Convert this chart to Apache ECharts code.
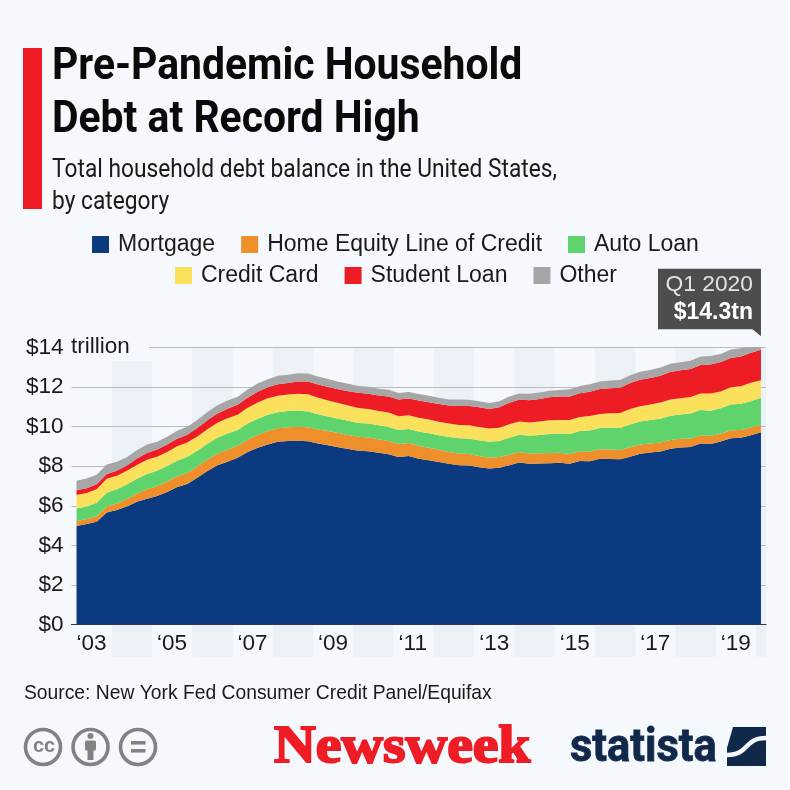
<!DOCTYPE html>
<html>
<head>
<meta charset="utf-8">
<script src="https://cdn.jsdelivr.net/npm/echarts@6/dist/echarts.min.js"></script>
<style>
html, body { margin: 0; padding: 0; background: #f5f8fc; }
#chart { width: 790px; height: 790px; }
</style>
</head>
<body>
<div id="chart"></div>
<script>
// quarterly balances, $ trillion, Q1 2003 - Q1 2020
var mortgage = [4.98,5.08,5.20,5.66, 5.79,5.97,6.20,6.36, 6.50,6.70,6.95,7.10, 7.42,7.76,8.05,8.23, 8.42,8.71,8.93,9.10, 9.23,9.27,9.29,9.26, 9.14,9.06,8.96,8.87, 8.78,8.76,8.68,8.60, 8.46,8.52,8.38,8.30, 8.21,8.12,8.05,8.03, 7.95,7.88,7.92,8.05, 8.18,8.12,8.13,8.15, 8.17,8.12,8.26,8.25, 8.37,8.36,8.35,8.48, 8.63,8.69,8.74,8.88, 8.94,8.97,9.14,9.12, 9.24,9.41,9.44,9.56, 9.71];
var heloc = [.24,.26,.27,.30, .33,.37,.42,.47, .50,.53,.54,.55, .57,.58,.59,.60, .61,.63,.65,.67, .68,.70,.70,.71, .71,.71,.71,.71, .70,.69,.68,.67, .66,.65,.64,.63, .62,.60,.59,.58, .57,.55,.54,.53, .53,.52,.52,.51, .51,.50,.49,.49, .49,.48,.47,.47, .46,.45,.45,.44, .44,.43,.42,.41, .40,.40,.39,.39, .39];
var auto = [.64,.62,.68,.70, .72,.74,.75,.77, .77,.78,.79,.82, .79,.79,.80,.82, .79,.81,.82,.82, .81,.81,.82,.79, .77,.74,.72,.71, .70,.70,.70,.71, .71,.71,.73,.73, .73,.75,.77,.78, .79,.80,.81,.86, .88,.90,.93,.96, .97,1.00,1.02,1.06, 1.07,1.10,1.11,1.16, 1.17,1.19,1.21,1.22, 1.23,1.26,1.27,1.27, 1.28,1.30,1.32,1.33, 1.35];
var creditCard = [.69,.69,.69,.70, .68,.69,.69,.72, .71,.71,.72,.73, .72,.74,.75,.77, .77,.80,.82,.84, .84,.84,.85,.87, .84,.81,.80,.77, .76,.74,.73,.73, .69,.69,.69,.70, .68,.68,.67,.68, .67,.67,.67,.68, .66,.67,.68,.70, .68,.71,.71,.73, .71,.73,.75,.78, .76,.78,.81,.83, .82,.83,.84,.87, .85,.87,.88,.93, .89];
var student = [.24,.24,.25,.25, .25,.26,.33,.35, .36,.37,.39,.39, .43,.45,.47,.48, .51,.51,.54,.55, .58,.58,.61,.64, .66,.68,.69,.72, .76,.76,.78,.81, .84,.85,.87,.87, .90,.91,.96,.97, .99,.99,1.03,1.08, 1.11,1.12,1.13,1.16, 1.19,1.19,1.20,1.23, 1.26,1.26,1.28,1.31, 1.34,1.34,1.36,1.38, 1.41,1.41,1.44,1.46, 1.49,1.48,1.50,1.51, 1.54];
var other = [.48,.49,.48,.48, .45,.42,.41,.42, .39,.39,.40,.40, .40,.42,.42,.42, .41,.41,.41,.41, .42,.41,.42,.41, .41,.40,.38,.38, .35,.36,.34,.34, .33,.33,.33,.33, .31,.31,.32,.31, .31,.30,.31,.32, .31,.32,.33,.33, .33,.36,.37,.38, .38,.39,.39,.39, .40,.41,.41,.42, .40,.42,.43,.43, .40,.43,.42,.43, .43];

var seriesNames = ['Mortgage', 'Home Equity Line of Credit', 'Auto Loan', 'Credit Card', 'Student Loan', 'Other'];
var seriesColors = ['#0c3a80', '#ef8f2b', '#5fd46c', '#fbe15b', '#ee1c25', '#a6a6a6'];
var seriesValues = [mortgage, heloc, auto, creditCard, student, other];

var quarters = [];
for (var q = 0; q < mortgage.length; q++) {
    quarters.push((2003 + Math.floor(q / 4)) + ' Q' + (q % 4 + 1));
}
var bandStarts = ['2004 Q1', '2006 Q1', '2008 Q1', '2010 Q1', '2012 Q1', '2014 Q1', '2016 Q1', '2018 Q1', '2020 Q1'];
var bandTops = [13.3, 14, 14, 14, 14, 14, 14, 14, 14];
var callout = ['2020 Q1', 14.3];
var calloutLines = ['Q1 2020', '$14.3tn'];

var bg = '#f5f8fc';
var textFont = '"Liberation Sans", Arial, sans-serif';

function renderBand(params, api) {
    var idx = api.value(0);
    var step = api.size([1, 0])[0];
    var base = api.coord([idx, 0]);
    var top = api.coord([idx, api.value(1)]);
    // a year is four quarters, the last band only has the one
    var count = Math.min(4, quarters.length - idx);
    return {
        type: 'rect',
        shape: { x: base[0] - step / 2, y: top[1], width: step * count, height: base[1] - top[1] + 32 },
        style: { fill: '#ecf0f7' }
    };
}

function renderCallout(params, api) {
    var p = api.coord([api.value(0), api.value(1)]);
    return {
        type: 'group',
        children: [
            { type: 'rect', shape: { x: p[0] - 103, y: p[1] - 72.5, width: 103, height: 60.5 }, style: { fill: '#4d4d4d' } },
            { type: 'polygon', shape: { points: [[p[0] - 9, p[1] - 12.5], [p[0], p[1] - 12.5], [p[0], p[1] - 5]] }, style: { fill: '#4d4d4d' } },
            { type: 'text', x: p[0] - 8, y: p[1] - 57, style: { text: calloutLines[0], fill: '#e2e2e2', font: '22.8px ' + textFont, align: 'right', verticalAlign: 'middle' } },
            { type: 'text', x: p[0] - 8, y: p[1] - 29, style: { text: calloutLines[1], fill: '#ffffff', font: 'bold 23px ' + textFont, align: 'right', verticalAlign: 'middle' } }
        ]
    };
}

var series = [{
    type: 'custom',
    renderItem: renderBand,
    data: bandStarts.map(function (s, i) { return [s, bandTops[i]]; }),
    clip: false,
    silent: true,
    z: 0
}];

seriesNames.forEach(function (name, i) {
    series.push({
        name: name,
        type: 'line',
        stack: 'debt',
        data: seriesValues[i],
        showSymbol: false,
        lineStyle: { width: 0 },
        itemStyle: { color: seriesColors[i] },
        areaStyle: { color: seriesColors[i], opacity: 1 },
        z: 2
    });
});

series.push({
    type: 'custom',
    renderItem: renderCallout,
    data: [callout],
    clip: false,
    silent: true,
    z: 6
});

function txt(text, x, y, font, fill, scaleX, weight) {
    return { type: 'text', x: x, y: y, scaleX: scaleX || 1, z: 10, style: { text: text, font: font, fill: fill, verticalAlign: 'middle', stroke: weight ? fill : null, lineWidth: weight || 0 } };
}

function ccCircle(cx) {
    return { type: 'circle', z: 10, shape: { cx: cx, cy: 747, r: 17.5 }, style: { fill: 'none', stroke: '#828282', lineWidth: 3.6 } };
}

var graphics = [
    { type: 'rect', z: 10, shape: { x: 23, y: 48, width: 19, height: 161 }, style: { fill: '#ee1c25' } },
    txt('Pre-Pandemic Household', 52, 68, 'bold 45px Roboto', '#0a0a0a', 0.908),
    txt('Debt at Record High', 52, 121, 'bold 45px Roboto', '#0a0a0a', 0.908),
    txt('Total household debt balance in the United States,', 52, 170, '26px Roboto', '#1a1a1a', 0.875),
    txt('by category', 52, 202, '26px Roboto', '#1a1a1a', 0.875),
    { type: 'rect', z: 5, shape: { x: 66, y: 345, width: 83, height: 5 }, style: { fill: bg } },
    txt('trillion', 71, 347, '22.5px ' + textFont, '#1a1a1a'),
    txt('Source: New York Fed Consumer Credit Panel/Equifax', 24, 694, '19.3px ' + textFont, '#1a1a1a'),
    ccCircle(43),
    ccCircle(90.5),
    ccCircle(138),
    txt('cc', 33, 746, 'bold 20px "Liberation Sans"', '#828282'),
    { type: 'circle', z: 10, shape: { cx: 90.5, cy: 736, r: 3 }, style: { fill: '#828282' } },
    { type: 'rect', z: 10, shape: { x: 85, y: 740.5, width: 11, height: 10, r: 1.5 }, style: { fill: '#828282' } },
    { type: 'rect', z: 10, shape: { x: 87.5, y: 748, width: 6, height: 12 }, style: { fill: '#828282' } },
    { type: 'rect', z: 10, shape: { x: 131, y: 741, width: 14.5, height: 3.6 }, style: { fill: '#828282' } },
    { type: 'rect', z: 10, shape: { x: 131, y: 749, width: 14.5, height: 3.6 }, style: { fill: '#828282' } },
    txt('Newsweek', 274, 749, 'bold 52px "Liberation Serif"', '#ee1c25', 1.11, 2),
    txt('statista', 570, 749, 'bold 46px Roboto', '#10294a', 0.945, 0.8),
    { type: 'rect', z: 10, shape: { x: 727, y: 727, width: 39, height: 39 }, style: { fill: '#10294a' } },
    { type: 'polygon', z: 11, shape: { points: [[727, 727], [733, 727], [727, 748]] }, style: { fill: bg } },
    { type: 'bezierCurve', z: 11, shape: { x1: 727, y1: 755, cpx1: 750, cpy1: 755, cpx2: 743, cpy2: 738, x2: 766, y2: 738 }, style: { fill: 'none', stroke: bg, lineWidth: 4.5 } }
];

var legendText = { fontFamily: textFont, fontSize: 23, color: '#1a1a1a', padding: [0, 0, 0, 4] };

var chart = echarts.init(document.getElementById('chart'));

var option = {
    backgroundColor: bg,
    animation: false,
    legend: [{
        data: seriesNames.slice(0, 3),
        left: 87,
        top: 228,
        icon: 'rect',
        itemWidth: 17,
        itemHeight: 17,
        itemGap: 26,
        textStyle: legendText,
        selectedMode: false
    }, {
        data: seriesNames.slice(3),
        left: 170,
        top: 259,
        icon: 'rect',
        itemWidth: 17,
        itemHeight: 17,
        itemGap: 26,
        textStyle: legendText,
        selectedMode: false
    }],
    grid: { left: 71.5, right: 24, top: 347.3, height: 277.4 },
    xAxis: {
        type: 'category',
        data: quarters,
        boundaryGap: true,
        z: 3,
        splitLine: { show: false },
        axisTick: { show: false },
        axisLine: { show: true, lineStyle: { color: '#2b3a50', width: 1.2 } },
        axisLabel: {
            interval: function (i) { return i % 8 === 0 && i < 68; },
            align: 'left',
            margin: 8,
            fontFamily: textFont,
            fontSize: 22.5,
            color: '#1a1a1a',
            formatter: function (v) { return '\u2018' + v.slice(2, 4); }
        }
    },
    yAxis: {
        type: 'value',
        min: 0,
        max: 14,
        interval: 2,
        z: 1,
        axisLine: { show: false },
        axisTick: { show: false },
        splitLine: { show: true, lineStyle: { color: '#b8bcc3', width: 1 } },
        axisLabel: {
            margin: 8,
            fontFamily: textFont,
            fontSize: 22.5,
            color: '#1a1a1a',
            formatter: function (v) { return '$' + v; }
        }
    },
    graphic: graphics,
    series: series
};

chart.setOption(option);
</script>
</body>
</html>
